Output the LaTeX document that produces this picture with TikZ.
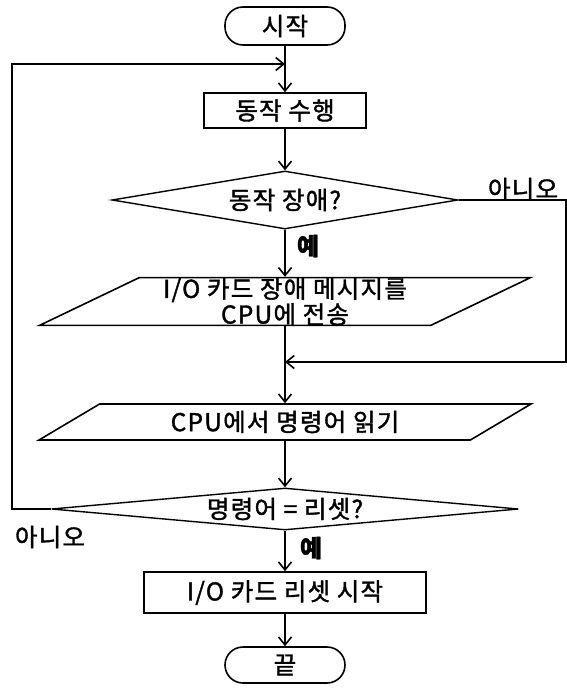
\documentclass[tikz,border=0pt]{standalone}
\usepackage{fontspec}
\newfontfamily\korfont[LetterSpace=5,FakeBold=1.5]{Noto Sans CJK KR}
\usetikzlibrary{arrows.meta,shapes.geometric}

\tikzset{
  flowline/.style={line width=1.6pt, -{Straight Barb[length=8pt,width=13pt]}},
  termbox/.style={draw, line width=1.6pt, rectangle, rounded corners=18pt, minimum width=120pt, minimum height=38pt},
  procbox/.style={draw, line width=1.6pt, rectangle, inner sep=0pt},
  decbox/.style={draw, line width=1.4pt, diamond, inner sep=0pt},
  iobox/.style={draw, line width=1.6pt, trapezium, trapezium stretches body, inner sep=0pt, align=center},
  answer/.style={inner sep=0pt},
  yesword/.style={answer, font=\korfont\bfseries\fontsize{24}{24}\selectfont}
}

\begin{document}
\begin{tikzpicture}[x=1pt, y=-1pt, font=\korfont\fontsize{24.5}{24}\selectfont]
\useasboundingbox (0,0) rectangle (567,688);

% steps of the flow
\node[termbox] (start) at (285,26) {시작};
\node[procbox, minimum width=162pt, minimum height=35pt] (run) at (285,110.5) {동작 수행};
\node[decbox, aspect=6, minimum width=346pt, minimum height=58pt] (fault) at (285,200) {동작 장애?};
\node[iobox, trapezium left angle=25.6, trapezium right angle=154.4,
      minimum width=491pt, minimum height=47pt] (send) at (285,301.5) {I/O 카드 장애 메시지를\\CPU에 전송};
\node[iobox, trapezium left angle=20.2, trapezium right angle=159.8,
      minimum width=492pt, minimum height=36pt] (read) at (285,422) {CPU에서 명령어 읽기};
\node[decbox, aspect=11, minimum width=467pt, minimum height=42pt] (reset) at (285,509) {명령어 = 리셋?};
\node[procbox, minimum width=282pt, minimum height=41pt] (resetio) at (285,592.5) {I/O 카드 리셋 시작};
\node[termbox, minimum height=36pt] (stop) at (285,665) {끝};

% answers
\node[answer] (faultno) at (523,189) {아니오};
\node[yesword] (faultyes) at (308,246) {예};
\node[answer] (resetno) at (50,537) {아니오};
\node[yesword] (resetyes) at (311,548) {예};

% joins
\coordinate (jtop) at (285,64);
\coordinate (jmid) at (285,362);
\coordinate (rgt) at (566,200);
\coordinate (lft) at (12,509);

\draw[flowline] (start) -- (run);
\draw[flowline] (run) -- (fault);
\draw[flowline] (fault) -- (send);
\draw[flowline] (send) -- (read);
\draw[flowline] (read) -- (reset);
\draw[flowline] (reset) -- (resetio);
\draw[flowline] (resetio) -- (stop);
\draw[flowline] (fault.east) -- (rgt) |- (jmid);
\draw[flowline] (reset.west) -- (lft) |- (jtop);
\end{tikzpicture}
\end{document}
